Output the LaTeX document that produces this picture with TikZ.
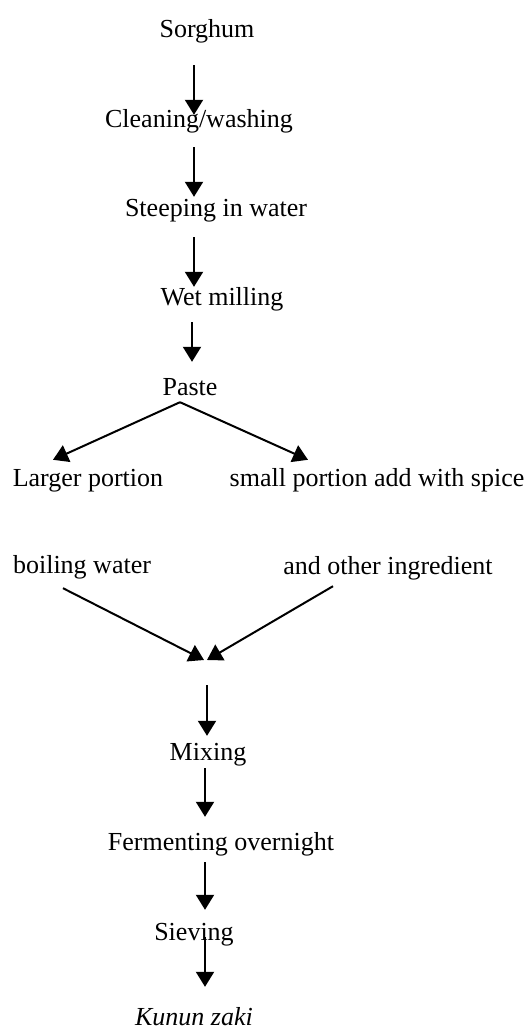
\documentclass[tikz,border=0pt]{standalone}
\usepackage{fontspec}
\setmainfont{Liberation Serif}
\usetikzlibrary{arrows.meta}
\begin{document}
\begin{tikzpicture}[x=1pt,y=-1pt,
  lbl/.style={anchor=base,inner sep=0pt,text height=18pt,text depth=6pt,
    font=\fontsize{26pt}{30pt}\selectfont},
  arr/.style={draw=black,line width=2pt,-{Triangle[width=18pt,length=15pt]}}]
\useasboundingbox (0,0) rectangle (529,1031);
\node[lbl] (sorghum) at (207,37) {Sorghum};
\node[lbl] (clean) at (199,127) {Cleaning/washing};
\node[lbl] (steep) at (216,216) {Steeping in water};
\node[lbl] (wet) at (222,305) {Wet milling};
\node[lbl] (paste) at (190,395) {Paste};
\node[lbl] (larger) at (88,486) {Larger portion};
\node[lbl] (small) at (377,486) {small portion add with spice};
\node[lbl] (boil) at (82,573) {boiling water};
\node[lbl] (other) at (388,574) {and other ingredient};
\node[lbl] (mix) at (208,760) {Mixing};
\node[lbl] (ferm) at (221,850) {Fermenting overnight};
\node[lbl] (sieve) at (194,940) {Sieving};
\node[lbl] (kunun) at (194,1025) {\itshape Kunun zaki};
\coordinate (meet) at (205,660);

\draw[arr] ([shift={(-13,22)}]sorghum.south) -- ([shift={(-5,6)}]clean.north);
\draw[arr] ([shift={(-5,14)}]clean.south) -- ([shift={(-22,-1)}]steep.north);
\draw[arr] ([shift={(-22,15)}]steep.south) -- ([shift={(-28,0)}]wet.north);
\draw[arr] ([shift={(-30,11)}]wet.south) -- ([shift={(2,-15)}]paste.north);
\draw[arr] ([shift={(-10,1)}]paste.south) -- ([shift={(-35,-8)}]larger.north);
\draw[arr] ([shift={(-10,1)}]paste.south) -- ([shift={(-69,-8)}]small.north);
\draw[arr] ([shift={(-19,9)}]boil.south) -- ([shift={(-1,0)}]meet);
\draw[arr] ([shift={(-55,6)}]other.south) -- ([shift={(2,0)}]meet);
\draw[arr] ([shift={(2,25)}]meet) -- ([shift={(-1,-6)}]mix.north);
\draw[arr] ([shift={(-3,2)}]mix.south) -- ([shift={(-16,-15)}]ferm.north);
\draw[arr] ([shift={(-16,6)}]ferm.south) -- ([shift={(11,-12)}]sieve.north);
\draw[arr] ([shift={(11,-9)}]sieve.south) -- ([shift={(11,-20)}]kunun.north);
\end{tikzpicture}
\end{document}
